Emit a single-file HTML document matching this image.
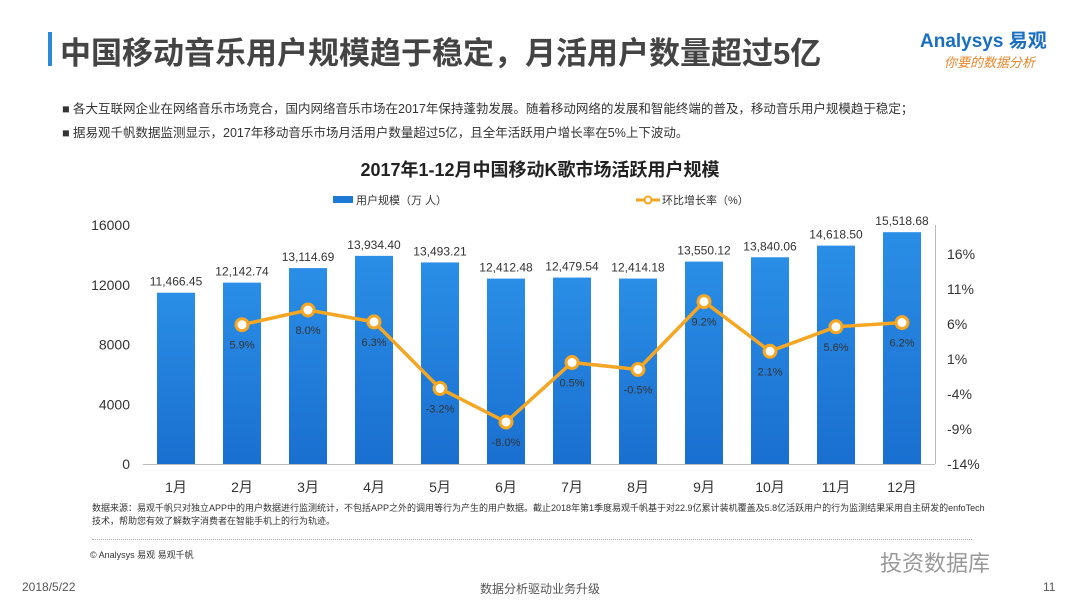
<!DOCTYPE html>
<html><head><meta charset="utf-8">
<style>
body{margin:0;width:1080px;height:608px;background:#fff;font-family:"Liberation Sans","Noto Sans CJK SC",sans-serif;position:relative;overflow:hidden}
.abs{position:absolute;white-space:nowrap}
</style></head>
<body>
<div class="abs" style="left:48px;top:32px;width:4px;height:34px;background:#2a8ad8"></div>
<div class="abs" style="left:60px;top:28px;font-size:31px;font-weight:bold;color:#444">中国移动音乐用户规模趋于稳定，月活用户数量超过5亿</div>
<div class="abs" style="left:920px;top:26px;font-size:19px;color:#1a6fc2;font-weight:bold">Analysys 易观</div>
<div class="abs" style="left:944px;top:52px;font-size:13px;color:#e8862a;font-style:italic">你要的数据分析</div>
<div class="abs" style="left:62px;top:98px;font-size:12.5px;color:#333">■ 各大互联网企业在网络音乐市场竞合，国内网络音乐市场在2017年保持蓬勃发展。随着移动网络的发展和智能终端的普及，移动音乐用户规模趋于稳定；</div>
<div class="abs" style="left:62px;top:122px;font-size:12.5px;color:#333">■ 据易观千帆数据监测显示，2017年移动音乐市场月活用户数量超过5亿，且全年活跃用户增长率在5%上下波动。</div>
<div class="abs" style="left:0;width:1080px;text-align:center;top:156px;font-size:18px;font-weight:bold;color:#222">2017年1-12月中国移动K歌市场活跃用户规模</div>
<svg id="chart" width="1080" height="608" style="position:absolute;left:0;top:0"></svg>
<div class="abs" style="left:92px;top:502px;font-size:9px;color:#333;line-height:13px">数据来源：易观千帆只对独立APP中的用户数据进行监测统计，不包括APP之外的调用等行为产生的用户数据。截止2018年第1季度易观千帆基于对22.9亿累计装机覆盖及5.8亿活跃用户的行为监测结果采用自主研发的enfoTech<br>技术，帮助您有效了解数字消费者在智能手机上的行为轨迹。</div>
<div class="abs" style="left:92px;top:539px;width:880px;border-top:1px dotted #aaa"></div>
<div class="abs" style="left:90px;top:548px;font-size:9px;color:#333">© Analysys 易观 易观千帆</div>
<div class="abs" style="left:880px;top:546px;font-size:22px;color:#999">投资数据库</div>
<div class="abs" style="left:22px;top:580px;font-size:12px;color:#555">2018/5/22</div>
<div class="abs" style="left:480px;top:580px;font-size:12px;color:#555">数据分析驱动业务升级</div>
<div class="abs" style="left:1043px;top:580px;font-size:12px;color:#555">11</div>
<script>
const months=["1月","2月","3月","4月","5月","6月","7月","8月","9月","10月","11月","12月"];
const users=[11466.45,12142.74,13114.69,13934.40,13493.21,12412.48,12479.54,12414.18,13550.12,13840.06,14618.50,15518.68];
const growth=[null,5.9,8.0,6.3,-3.2,-8.0,0.5,-0.5,9.2,2.1,5.6,6.2];
const leftTicks=[0,4000,8000,12000,16000];
const rightTicks=[-14,-9,-4,1,6,11,16];
const NS="http://www.w3.org/2000/svg";
const svg=document.getElementById('chart');
const x0=143,x1=935,step=(x1-x0)/months.length;
const xc=i=>x0+step*(i+0.5);
const yL=v=>464-v*(239/16000);
const yR=v=>464-(v+14)*7;
function mk(t,a,p){const e=document.createElementNS(NS,t);for(const k in a)e.setAttribute(k,a[k]);(p||svg).appendChild(e);return e;}
function tx(s,a){const e=mk('text',Object.assign({'font-size':13,fill:'#333','font-family':'Liberation Sans, Noto Sans CJK SC, sans-serif'},a));e.textContent=s;return e;}
let l=mk('rect',{x:333,y:196,width:20,height:7,fill:'#1f7ad6'});


tx('用户规模（万 人）',{x:356,y:204,'font-size':11});
l=mk('line',{x1:636,y1:200,x2:660,y2:200,stroke:'#f5a623','stroke-width':3});


mk('circle',{cx:648,cy:200,r:3.5,fill:'#fff',stroke:'#f5a623','stroke-width':2});
tx('环比增长率（%）',{x:662,y:204,'font-size':11});
const ax=mk('line',{x1:x0,y1:464.5,x2:x1,y2:464.5,stroke:'#bbb'});


leftTicks.forEach(v=>{const t=tx(String(v),{x:130,y:yL(v)+5,'text-anchor':'end','font-size':14});

});
rightTicks.forEach(v=>{const t=tx(v+'%',{x:947,y:yR(v)+5,'font-size':14});

});
mk('line',{x1:935.5,y1:225,x2:935.5,y2:464,stroke:'#bbb'});
const grad=mk('linearGradient',{id:'g',x1:0,y1:0,x2:0,y2:1},mk('defs',{}));
mk('stop',{offset:0,'stop-color':'#2a8ee6'},grad);mk('stop',{offset:1,'stop-color':'#1a6fcf'},grad);
users.forEach((v,i)=>{
 const b=mk('rect',{x:xc(i)-19,y:yL(v),width:38,height:464-yL(v),fill:'url(#g)'});
 
 
 const t=tx(v.toLocaleString('en-US',{minimumFractionDigits:2,maximumFractionDigits:2}),{x:xc(i),y:yL(v)-7,'text-anchor':'middle','font-size':12});
 
 
 const m=tx(months[i],{x:xc(i),y:492,'text-anchor':'middle','font-size':14});
 
 
});
let d='';growth.forEach((v,i)=>{if(v===null)return;d+=(d?'L':'M')+xc(i)+','+yR(v);});
const ln=mk('path',{d:d,fill:'none',stroke:'#f5a623','stroke-width':3.5});


growth.forEach((v,i)=>{if(v===null)return;
 const c=mk('circle',{cx:xc(i),cy:yR(v),r:6,fill:'#fff',stroke:'#f5a623','stroke-width':3});
 
 
 const t=tx(v.toFixed(1)+'%',{x:xc(i),y:yR(v)+24,'text-anchor':'middle','font-size':11,fill:'#333'});
 
 
});
</script>
</body></html>
